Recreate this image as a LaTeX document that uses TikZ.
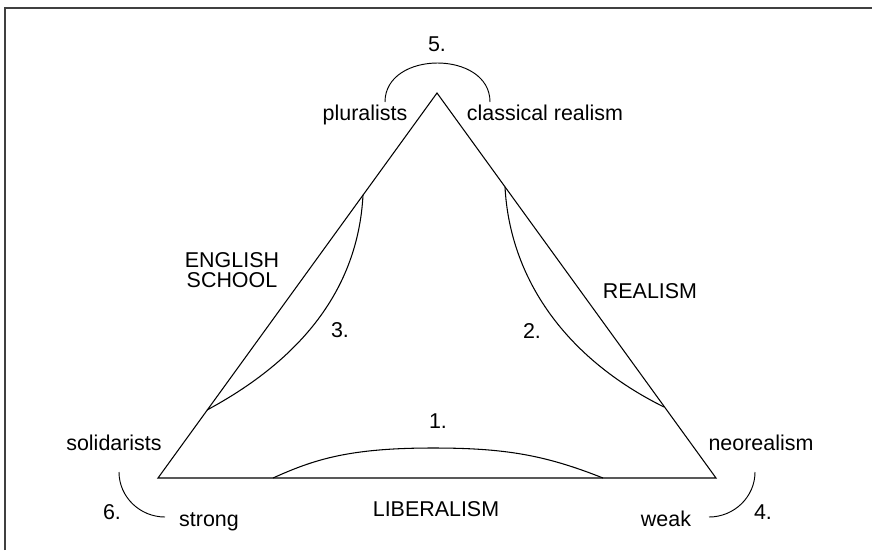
\documentclass[tikz,border=0pt]{standalone}
\usepackage{fontspec}
\setmainfont{Liberation Sans}

\begin{document}
\begin{tikzpicture}[
  x=0.03cm, y=-0.03cm,
  lbl/.style={font=\fontsize{18.3}{17.5}\selectfont, inner sep=0pt, anchor=base},
  side/.style={line width=0.9pt, line join=miter},
  bow/.style={line width=0.8pt},
]
\useasboundingbox (0,0) rectangle (872,550);
\draw[line width=1.6pt, black!75] (5,550) -- (5,8) -- (872,8);

% corners of the triangle
\coordinate (top) at (437,93);
\coordinate (bl)  at (158,478);
\coordinate (br)  at (716,478);
% where the inner curves leave the sides
\coordinate (es1) at (363,195);
\coordinate (es2) at (207,410);
\coordinate (re1) at (505,187);
\coordinate (re2) at (664,407);
\coordinate (lb1) at (273,478);
\coordinate (lb2) at (603,478);
% ends of the brackets
\coordinate (b5a) at (385,102);
\coordinate (b5b) at (490,102);
\coordinate (b6a) at (119,472);
\coordinate (b6b) at (165,517);
\coordinate (b4a) at (755,472);
\coordinate (b4b) at (709,517);

\draw[side] (top) -- (bl) -- (br) -- cycle;

\draw[side] (es1) .. controls (358,290) and (300,360) .. (es2);
\draw[side] (re1) .. controls (510,280) and (567,359) .. (re2);
\draw[side] (lb1) .. controls (315,459) and (350,448) .. (433,448)
                  .. controls (505,448) and (545,455) .. (lb2);

\draw[bow] (b5a) .. controls (385,50) and (490,50) .. (b5b);
\draw[bow] (b6a) .. controls (119,497) and (140,517) .. (b6b);
\draw[bow] (b4a) .. controls (755,497) and (734,517) .. (b4b);

\node[lbl] (n5)    at (437,51)  {5.};
\node[lbl] (plur)  at (365,120) {pluralists};
\node[lbl] (class) at (545,120) {classical realism};
\node[lbl, anchor=center, align=center] (engl) at (232,270) {ENGLISH\\SCHOOL};
\node[lbl] (real)  at (650,298) {REALISM};
\node[lbl] (n3)    at (340,337) {3.};
\node[lbl] (n2)    at (532,338) {2.};
\node[lbl] (n1)    at (438,428) {1.};
\node[lbl] (soli)  at (114,450) {solidarists};
\node[lbl] (neor)  at (761,450) {neorealism};
\node[lbl] (lib)   at (436,516) {LIBERALISM};
\node[lbl] (n6)    at (112,519) {6.};
\node[lbl] (strg)  at (209,526) {strong};
\node[lbl] (weak)  at (666,526) {weak};
\node[lbl] (n4)    at (763,519) {4.};

\end{tikzpicture}
\end{document}
